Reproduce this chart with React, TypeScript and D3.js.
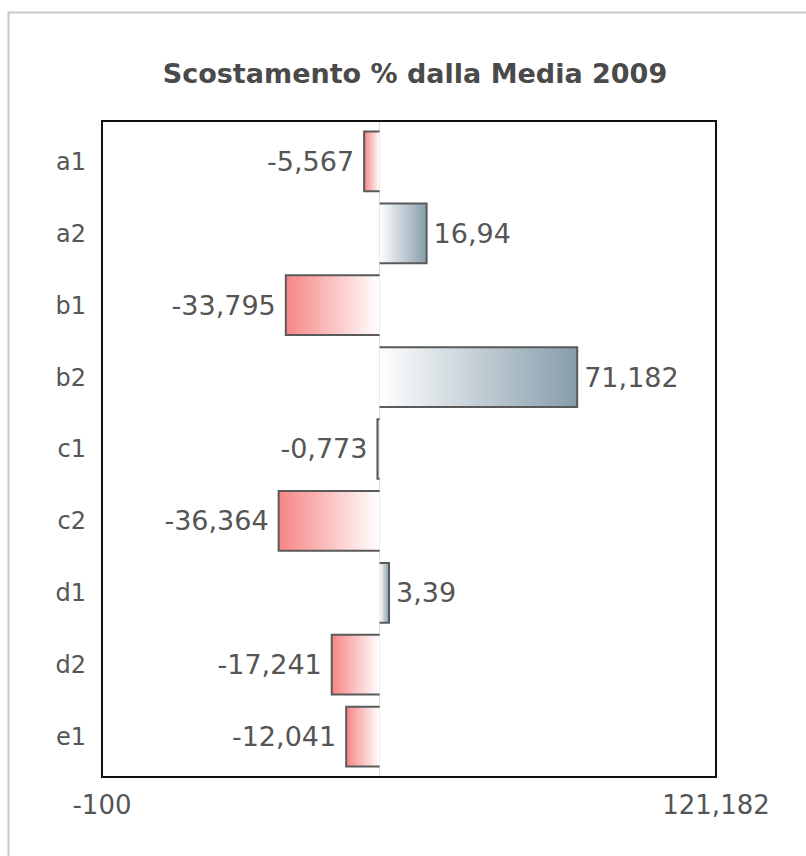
import React from "react";
import * as d3 from "d3";

const categories = ["a1", "a2", "b1", "b2", "c1", "c2", "d1", "d2", "e1"];
const values = [-5.567, 16.94, -33.795, 71.182, -0.773, -36.364, 3.39, -17.241, -12.041];
const valueLabels = ["-5,567", "16,94", "-33,795", "71,182", "-0,773", "-36,364", "3,39", "-17,241", "-12,041"];
const axisMin = -100;
const axisMax = 121.182;
const axisLabels = ["-100", "121,182"];
const title = "Scostamento % dalla Media 2009";

const W = 806, H = 856;
const plot = { left: 102, right: 716, top: 121, bottom: 777 };
const FONT = "'DejaVu Sans', Verdana, sans-serif";

export default function App() {
  const x = d3.scaleLinear().domain([axisMin, axisMax]).range([plot.left, plot.right]);
  const y = d3.scaleBand<string>().domain(categories).range([plot.top, plot.bottom]).paddingInner(0.17).paddingOuter(0.147);
  const x0 = x(0);
  return (
    <svg width={W} height={H} style={{ position: "absolute", left: 0, top: 0, background: "#fff" }}>
      <defs>
        <linearGradient id="neg" x1="0" x2="1" y1="0" y2="0">
          <stop offset="0" stopColor="#f78585" />
          <stop offset="1" stopColor="#ffffff" />
        </linearGradient>
        <linearGradient id="pos" x1="0" x2="1" y1="0" y2="0">
          <stop offset="0" stopColor="#ffffff" />
          <stop offset="1" stopColor="#869dab" />
        </linearGradient>
      </defs>
      <rect x={8.5} y={12.5} width={W + 20} height={H + 20} fill="#fff" stroke="#c8c8c8" strokeWidth={2} />
      <text x={415} y={83} textAnchor="middle" fontFamily={FONT} fontWeight="bold" fontSize={27} fill="#4a4a4a">{title}</text>
      <rect x={plot.left} y={plot.top} width={plot.right - plot.left} height={plot.bottom - plot.top} fill="#fff" />
      <line x1={x0} x2={x0} y1={plot.top} y2={plot.bottom} stroke="#d8d8d8" strokeWidth={1} />
      {categories.map((c, i) => {
        const v = values[i];
        const yy = y(c)!;
        const bh = y.bandwidth();
        const xa = Math.min(x(v), x0);
        const xb = Math.max(x(v), x0);
        const xe = x(v);
        const path = `M${x0},${yy} H${xe} V${yy + bh} H${x0}`;
        return (
          <g key={c}>
            <text x={86} y={yy + bh / 2} dy="0.35em" textAnchor="end" fontFamily={FONT} fontSize={24} fill="#555">{c}</text>
            <rect x={xa} y={yy} width={xb - xa} height={bh} fill={v < 0 ? "url(#neg)" : "url(#pos)"} />
            <path d={path} fill="none" stroke="#5a5a5a" strokeWidth={2} />
            <text x={v < 0 ? xe - 10 : xe + 7} y={yy + bh / 2} dy="0.35em" textAnchor={v < 0 ? "end" : "start"} fontFamily={FONT} fontSize={27} fill="#555">{valueLabels[i]}</text>
          </g>
        );
      })}
      <rect x={plot.left} y={plot.top} width={plot.right - plot.left} height={plot.bottom - plot.top} fill="none" stroke="#111" strokeWidth={2} />
      <text x={x(axisMin)} y={814} textAnchor="middle" fontFamily={FONT} fontSize={26} fill="#555">{axisLabels[0]}</text>
      <text x={x(axisMax)} y={814} textAnchor="middle" fontFamily={FONT} fontSize={26} fill="#555">{axisLabels[1]}</text>
    </svg>
  );
}
